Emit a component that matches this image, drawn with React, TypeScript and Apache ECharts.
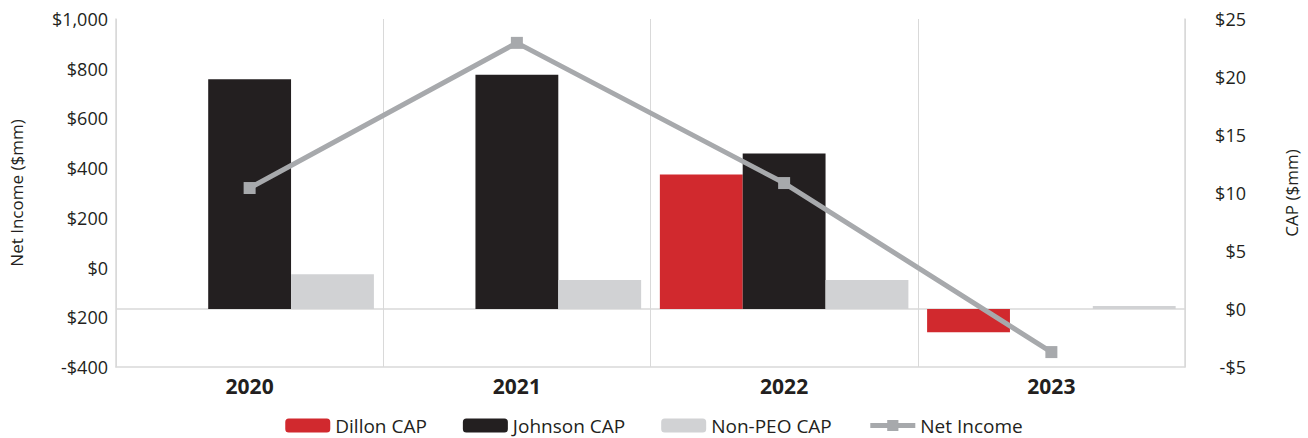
import React, { useEffect, useRef } from "react";
import * as echarts from "echarts";

const years = ["2020", "2021", "2022", "2023"];
const dillonCap = [null, null, 11.6, -2.0];
const johnsonCap = [19.8, 20.2, 13.4, null];
const nonPeoCap = [3.0, 2.5, 2.5, 0.25];
const netIncome = [320, 904, 340, -340];
const leftTickLabels = ["-$400", "$200", "$0", "$200", "$400", "$600", "$800", "$1,000"];
const rightTickLabels = ["-$5", "$0", "$5", "$10", "$15", "$20", "$25"];

const FONT = "'Open Sans', sans-serif";
const TXT = "#231f20";
const GRIDC = "#d9d9d9";

export default function App() {
  const ref = useRef<HTMLDivElement>(null);
  useEffect(() => {
    document.body.style.margin = "0";
    if (!ref.current) return;
    const chart = echarts.init(ref.current, null, { renderer: "svg" });
    chart.setOption({
      animation: false,
      textStyle: { fontFamily: FONT, color: TXT },
      grid: { left: 115, right: 119, top: 19, bottom: 71 },
      legend: {
        bottom: -2,
        left: "center",
        itemWidth: 45,
        itemHeight: 14,
        itemGap: 36,
        textStyle: { fontFamily: FONT, fontSize: 19, color: TXT },
        data: [
          "Dillon CAP",
          "Johnson CAP",
          "Non-PEO CAP",
          { name: "Net Income", lineStyle: { width: 5, color: "#a7a9ac" } },
        ],
      },
      xAxis: {
        type: "category",
        data: years,
        axisLine: { show: true, onZero: false, lineStyle: { color: GRIDC, width: 1.5 } },
        axisTick: { show: false },
        splitLine: { show: true, lineStyle: { color: GRIDC, width: 1 } },
        axisLabel: { fontFamily: FONT, fontWeight: "bold", fontSize: 21, color: TXT, margin: 8 },
      },
      yAxis: [
        {
          type: "value",
          min: -400,
          max: 1000,
          interval: 200,
          name: "Net Income ($mm)",
          nameLocation: "middle",
          nameRotate: 90,
          nameGap: 91,
          nameTextStyle: { fontFamily: FONT, fontSize: 17, color: TXT },
          axisLine: { show: true, lineStyle: { color: GRIDC, width: 1.5 } },
          axisTick: { show: false },
          splitLine: { show: false },
          axisLabel: {
            fontFamily: FONT,
            fontSize: 18,
            color: TXT,
            margin: 8,
            formatter: (v: number) => leftTickLabels[Math.round((v + 400) / 200)] ?? "",
          },
        },
        {
          type: "value",
          min: -5,
          max: 25,
          interval: 5,
          position: "right",
          name: "CAP ($mm)",
          nameLocation: "middle",
          nameRotate: 90,
          nameGap: 98,
          nameTextStyle: { fontFamily: FONT, fontSize: 17, color: TXT },
          axisLine: { show: true, lineStyle: { color: GRIDC, width: 1.5 } },
          axisTick: { show: false },
          splitLine: { show: false },
          axisLabel: {
            fontFamily: FONT,
            fontSize: 18,
            color: TXT,
            margin: 61,
            align: "right",
            formatter: (v: number) => rightTickLabels[Math.round((v + 5) / 5)] ?? "",
          },
        },
      ],
      series: [
        {
          name: "Dillon CAP",
          type: "bar",
          yAxisIndex: 1,
          data: dillonCap,
          barGap: "0%",
          barCategoryGap: "7%",
          itemStyle: { color: "#d1292e" },
          markLine: {
            silent: true,
            symbol: ["none", "none"],
            label: { show: false },
            lineStyle: { color: GRIDC, width: 1.5, type: "solid" },
            data: [{ yAxis: 0 }],
            z: 1,
          },
        },
        {
          name: "Johnson CAP",
          type: "bar",
          yAxisIndex: 1,
          data: johnsonCap,
          barGap: "0%",
          barCategoryGap: "7%",
          itemStyle: { color: "#231f20" },
        },
        {
          name: "Non-PEO CAP",
          type: "bar",
          yAxisIndex: 1,
          data: nonPeoCap,
          barGap: "0%",
          barCategoryGap: "7%",
          itemStyle: { color: "#d1d2d4" },
        },
        {
          name: "Net Income",
          type: "line",
          yAxisIndex: 0,
          data: netIncome,
          symbol: "rect",
          symbolSize: 12,
          lineStyle: { color: "#a7a9ac", width: 5 },
          itemStyle: { color: "#a7a9ac" },
          z: 5,
        },
      ],
    });
    return () => chart.dispose();
  }, []);
  return <div ref={ref} style={{ width: 1308, height: 438 }} />;
}
